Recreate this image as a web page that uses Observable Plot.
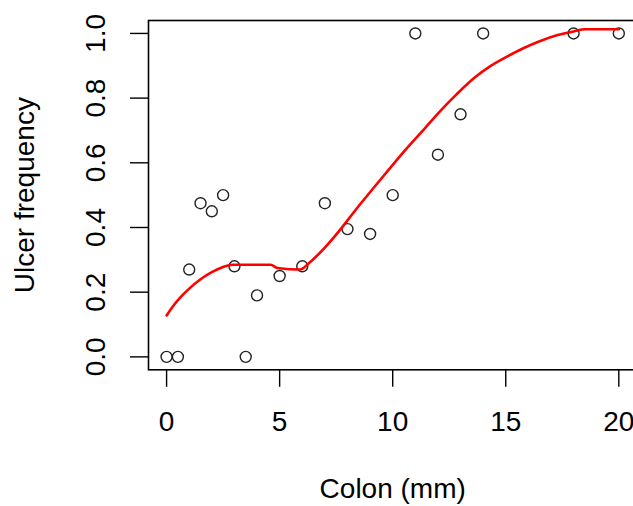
<!DOCTYPE html>
<html>
<head>
<meta charset="utf-8">
<script src="https://cdn.jsdelivr.net/npm/d3@7"></script>
<script src="https://cdn.jsdelivr.net/npm/@observablehq/plot@0.6"></script>
<style>
  html, body { margin: 0; padding: 0; background: #fff; overflow: hidden; }
  svg { display: block; }
</style>
</head>
<body>
<div id="chart"></div>
<script>
// Observed points
const colon = [0, 0.5, 1, 1.5, 2, 2.5, 3, 3.5, 4, 5, 6, 7, 8, 9, 10, 11, 12, 13, 14, 18, 20];
const ulcer = [0, 0, 0.27, 0.475, 0.45, 0.5, 0.28, 0, 0.19, 0.25, 0.28, 0.475, 0.395, 0.38, 0.5, 1, 0.625, 0.75, 1, 1, 1];

// Fitted (smoothed) curve
const fitX = [0, 0.3, 0.6, 1.0, 1.5, 2.0, 2.5, 2.9, 4.6, 4.9, 5.9, 6.3, 7.0, 7.7, 8.4, 9.15, 9.9, 10.6, 11.4, 12.1, 12.8, 13.6, 14.3, 15.1, 15.8, 16.5, 17.3, 18.0, 18.5, 20];
const fitY = [0.128, 0.158, 0.183, 0.211, 0.24, 0.262, 0.278, 0.285, 0.285, 0.275, 0.27, 0.29, 0.338, 0.395, 0.458, 0.522, 0.585, 0.643, 0.705, 0.76, 0.81, 0.862, 0.898, 0.93, 0.955, 0.976, 0.995, 1.006, 1.013, 1.013];

// Ticks and labels
const xTicks = [0, 5, 10, 15, 20];
const yTicks = [0, 0.2, 0.4, 0.6, 0.8, 1.0];
const xLabel = "Colon (mm)";
const yLabel = "Ulcer frequency";

const points = colon.map((c, i) => ({x: c, y: ulcer[i]}));
const fit = fitX.map((c, i) => ({x: c, y: fitY[i]}));

const FONT = 28;

const chart = Plot.plot({
  width: 633,
  height: 506,
  marginLeft: 148,
  marginRight: -3.4,
  marginTop: 20,
  marginBottom: 136.7,
  style: {fontFamily: "'Liberation Sans', Arial, sans-serif", background: "#fff", color: "#000"},
  x: {domain: [-0.8, 20.8]},
  y: {domain: [-0.04, 1.04]},
  marks: [
    Plot.frame({stroke: "#000", strokeWidth: 1.6}),
    Plot.axisX({ticks: xTicks, tickSize: 17.5, tickPadding: 24, fontSize: FONT, label: null, tickFormat: d => String(d), strokeWidth: 1.4}),
    Plot.axisY({ticks: yTicks, tickSize: 18, tickPadding: 34, tickRotate: -90, textAnchor: "middle", lineAnchor: "middle", fontSize: FONT, label: null, tickFormat: d3.format(".1f"), strokeWidth: 1.4}),
    Plot.dot(points, {x: "x", y: "y", r: 5.5, stroke: "#222", strokeWidth: 1.4, fill: "none"}),
    Plot.line(fit, {x: "x", y: "y", stroke: "#ff0000", strokeWidth: 2.6, curve: "monotone-x"}),
    Plot.text([xLabel], {frameAnchor: "bottom", dy: 119.7, text: d => d, fontSize: FONT, lineAnchor: "middle", fill: "#000"}),
    Plot.text([yLabel], {frameAnchor: "left", dx: -123, rotate: -90, text: d => d, fontSize: FONT, lineAnchor: "middle", textAnchor: "middle", fill: "#000"})
  ]
});
document.getElementById("chart").appendChild(chart);
</script>
</body>
</html>
